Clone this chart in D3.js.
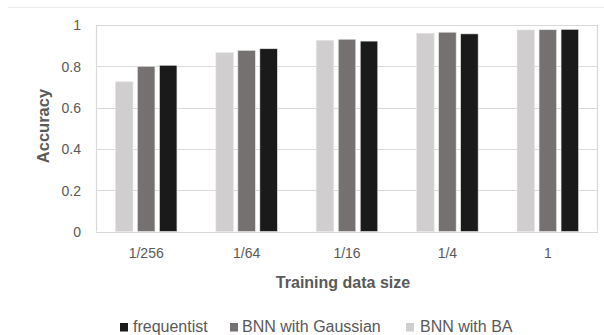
<!DOCTYPE html>
<html>
<head>
<meta charset="utf-8">
<script src="https://cdn.jsdelivr.net/npm/d3@7"></script>
<style>
  html, body { margin: 0; padding: 0; background: #fff; }
  svg { display: block; font-family: "Liberation Sans", Arial, sans-serif; }
</style>
</head>
<body>
<svg id="chart" width="604" height="335"></svg>
<script>
// Accuracy by training data size for three models
const categories = ["1/256", "1/64", "1/16", "1/4", "1"];
const baValues = [0.725, 0.866, 0.926, 0.960, 0.976];
const gaussianValues = [0.800, 0.877, 0.931, 0.965, 0.977];
const frequentistValues = [0.805, 0.885, 0.922, 0.957, 0.979];
const yTicks = [0, 0.2, 0.4, 0.6, 0.8, 1];

// Drawing order inside each group (left to right)
const series = [
  { name: "BNN with BA", values: baValues, color: "#d0cece" },
  { name: "BNN with Gaussian", values: gaussianValues, color: "#767171" },
  { name: "frequentist", values: frequentistValues, color: "#1a1a1a" }
];
// Legend lists the series in reverse
const legendItems = series.slice().reverse();

const svg = d3.select("#chart");
const plot = { left: 96, right: 598, top: 25, bottom: 231.5 };

// Faint rule across the top
svg.append("line")
  .attr("x1", 8).attr("x2", 604).attr("y1", 7.5).attr("y2", 7.5)
  .attr("stroke", "#ececec").attr("stroke-width", 1);

const x = d3.scaleBand().domain(categories).range([plot.left, plot.right]).paddingInner(0).paddingOuter(0);
const y = d3.scaleLinear().domain([0, 1]).range([plot.bottom, plot.top]);

// Gridlines
svg.append("g")
  .selectAll("line")
  .data(yTicks)
  .join("line")
  .attr("x1", plot.left).attr("x2", plot.right)
  .attr("y1", d => Math.round(y(d)) + 0.5).attr("y2", d => Math.round(y(d)) + 0.5)
  .attr("stroke", "#d9d9d9").attr("stroke-width", 1.2);

// Plot frame sides
svg.append("line")
  .attr("x1", plot.left + 0.5).attr("x2", plot.left + 0.5)
  .attr("y1", plot.top).attr("y2", plot.bottom)
  .attr("stroke", "#d9d9d9").attr("stroke-width", 1.2);
svg.append("line")
  .attr("x1", plot.right - 0.5).attr("x2", plot.right - 0.5)
  .attr("y1", plot.top).attr("y2", plot.bottom)
  .attr("stroke", "#d9d9d9").attr("stroke-width", 1.2);

// Bars
const barWidth = 17.5;
const barGap = 4.5;
const groupWidth = 3 * barWidth + 2 * barGap;
const sub = d3.scaleBand()
  .domain(series.map(s => s.name))
  .range([0, groupWidth])
  .paddingInner(barGap / (barWidth + barGap));

series.forEach(s => {
  svg.append("g")
    .selectAll("rect")
    .data(s.values.map((v, i) => ({ cat: categories[i], v })))
    .join("rect")
    .attr("x", d => x(d.cat) + x.bandwidth() / 2 - groupWidth / 2 + sub(s.name))
    .attr("width", sub.bandwidth())
    .attr("y", d => y(d.v))
    .attr("height", d => y(0) - y(d.v))
    .attr("fill", s.color)
    .attr("stroke", "#e6e6e6")
    .attr("stroke-width", 0.6);
});

// Y axis labels
const yAxis = d3.axisLeft(y).tickValues(yTicks).tickSize(0).tickPadding(0)
  .tickFormat(d => d3.format("")(d));
const gy = svg.append("g").attr("transform", `translate(81,0)`).call(yAxis);
gy.select(".domain").remove();
gy.selectAll("text")
  .attr("fill", "#595959").attr("font-size", 14).attr("dy", "0.35em");

// X axis labels
const xAxis = d3.axisBottom(x).tickSize(0).tickPadding(0);
const gx = svg.append("g").attr("transform", `translate(0,248)`).call(xAxis);
gx.select(".domain").remove();
gx.selectAll("text")
  .attr("fill", "#595959").attr("font-size", 14).attr("dy", "0.71em");

// Axis titles
svg.append("text")
  .attr("x", 343).attr("y", 288)
  .attr("text-anchor", "middle")
  .attr("font-size", 16).attr("font-weight", "bold").attr("fill", "#595959")
  .text("Training data size");

svg.append("text")
  .attr("transform", `translate(48.5,126) rotate(-90)`)
  .attr("text-anchor", "middle")
  .attr("font-size", 16.5).attr("font-weight", "bold").attr("fill", "#595959")
  .text("Accuracy");

// Legend
const swatchX = [120, 230, 406];
const labelX = [133, 242, 420];
const legend = svg.append("g");
legendItems.forEach((s, i) => {
  legend.append("rect")
    .attr("x", swatchX[i]).attr("y", 323)
    .attr("width", 8).attr("height", 8.5)
    .attr("fill", s.color);
  legend.append("text")
    .attr("x", labelX[i]).attr("y", 332)
    .attr("font-size", 16).attr("fill", "#595959")
    .text(s.name);
});
</script>
</body>
</html>
